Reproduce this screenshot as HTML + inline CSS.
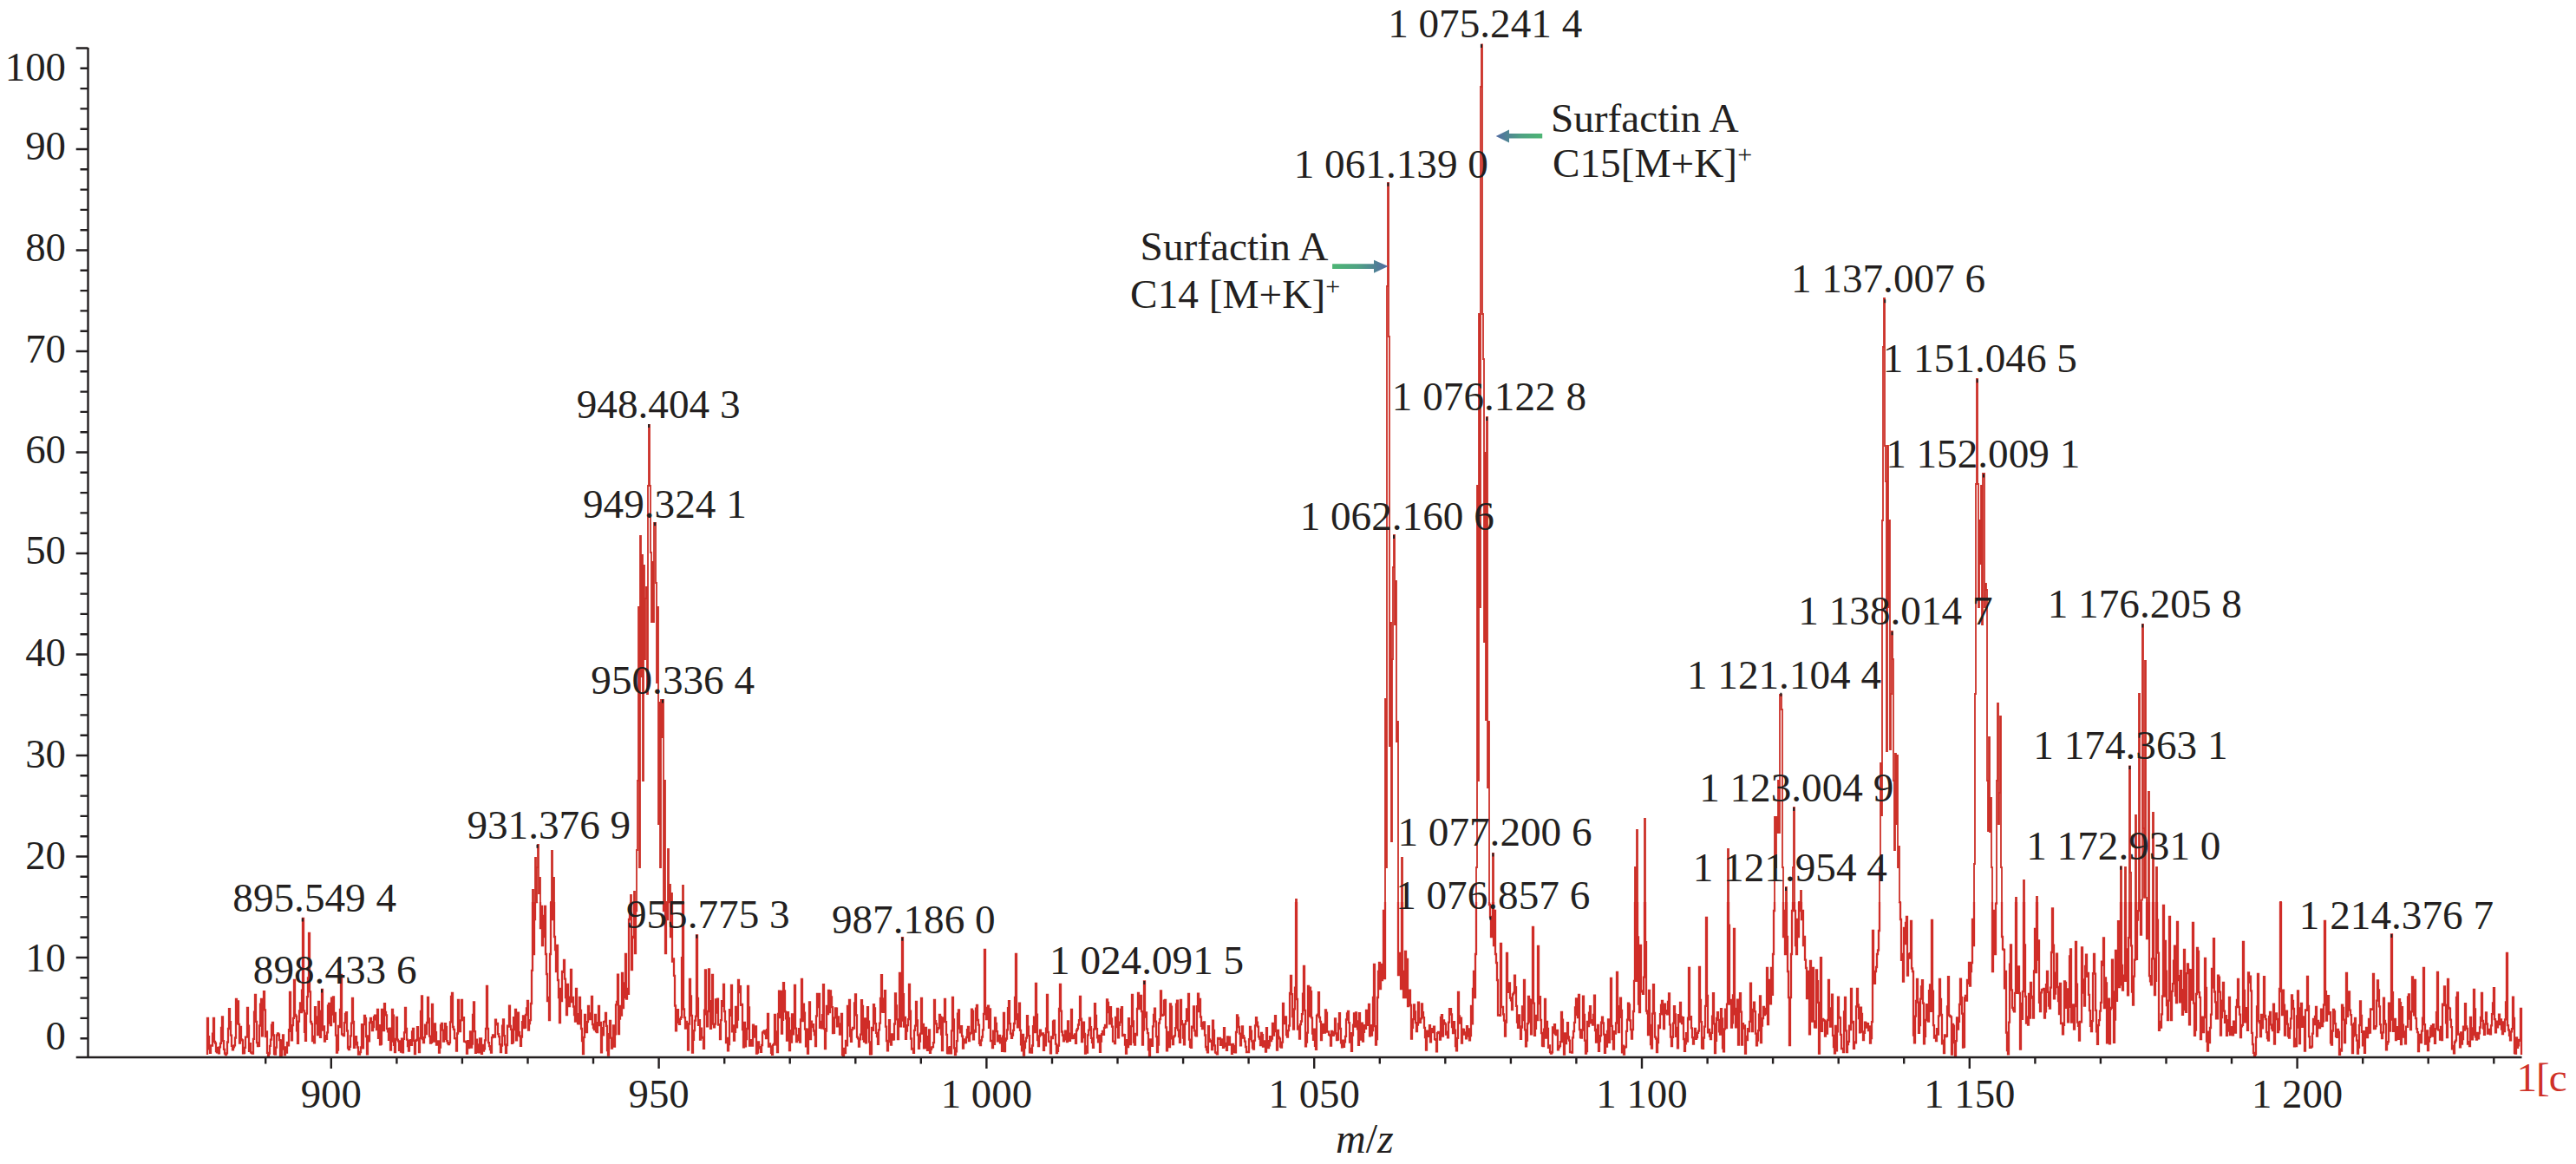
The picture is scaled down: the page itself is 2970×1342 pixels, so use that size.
<!DOCTYPE html>
<html><head><meta charset="utf-8"><style>html,body{margin:0;padding:0;background:#fff;overflow:hidden}svg{display:block}</style></head>
<body><svg width="2970" height="1342" viewBox="0 0 2970 1342">
<rect width="100%" height="100%" fill="#fff"/>
<defs><clipPath id="clo"><rect x="0" y="1040" width="2970" height="200"/></clipPath><clipPath id="chi"><rect x="0" y="0" width="2970" height="1040"/></clipPath><path id="sig" d="M239.0,1216.0 V1174.0H240.0V1195.2H241.0V1209.4H242.0V1213.9H243.0V1205.4H244.0V1205.7H245.0V1191.7H246.0V1174.0H247.0V1200.9H248.0V1202.6H249.0V1212.0H250.0V1213.3H251.0V1207.9H252.0V1214.4H253.0V1207.4H254.0V1202.8H255.0V1185.0H256.0V1172.3H257.0V1200.2H258.0V1209.9H259.0V1214.7H260.0V1216.0H261.0V1214.3H262.0V1201.5H263.0V1186.0H264.0V1163.1H265.0V1178.2H266.0V1193.6H267.0V1205.8H268.0V1210.4H269.0V1207.4H270.0V1205.3H271.0V1196.5H272.0V1152.0H273.0V1180.2H274.0V1154.5H275.0V1180.8H276.0V1202.6H277.0V1183.8H278.0V1198.3H279.0V1199.4H280.0V1214.4H281.0V1214.2H282.0V1207.9H283.0V1195.6H284.0V1195.6H285.0V1162.0H286.0V1182.6H287.0V1211.8H288.0V1203.2H289.0V1213.4H290.0V1214.0H291.0V1214.5H292.0V1197.8H293.0V1166.6H294.0V1146.8H295.0V1177.8H296.0V1202.1H297.0V1206.0H298.0V1205.8H299.0V1182.5H300.0V1157.6H301.0V1152.0H302.0V1194.4H303.0V1158.0H304.0V1143.1H305.0V1164.3H306.0V1195.0H307.0V1189.5H308.0V1213.9H309.0V1217.0H310.0V1214.6H311.0V1205.8H312.0V1198.6H313.0V1181.7H314.0V1178.8H315.0V1193.5H316.0V1215.1H317.0V1215.6H318.0V1207.6H319.0V1193.5H320.0V1191.3H321.0V1192.7H322.0V1199.1H323.0V1217.0H324.0V1216.5H325.0V1199.4H326.0V1193.5H327.0V1209.6H328.0V1216.2H329.0V1207.4H330.0V1213.5H331.0V1202.0H332.0V1205.4H333.0V1187.1H334.0V1144.0H335.0V1188.8H336.0V1199.4H337.0V1182.1H338.0V1173.9H339.0V1130.0H340.0V1169.8H341.0V1171.6H342.0V1188.4H343.0V1202.8H344.0V1177.6H345.0V1165.4H346.0V1156.3H347.0V1167.1H348.0V1141.7H349.0V1059.0H350.0V1165.3H351.0V1189.9H352.0V1199.8H353.0V1168.5H354.0V1149.1H355.0V1127.4H356.0V1076.0H357.0V1143.3H358.0V1178.0H359.0V1180.4H360.0V1200.2H361.0V1194.8H362.0V1202.3H363.0V1161.1H364.0V1180.0H365.0V1172.5H366.0V1193.2H367.0V1155.0H368.0V1193.2H369.0V1195.9H370.0V1165.7H371.0V1141.0H372.0V1187.6H373.0V1183.5H374.0V1200.5H375.0V1194.1H376.0V1197.8H377.0V1190.3H378.0V1159.4H379.0V1157.0H380.0V1179.6H381.0V1182.2H382.0V1150.7H383.0V1169.7H384.0V1149.3H385.0V1178.2H386.0V1167.8H387.0V1193.6H388.0V1213.6H389.0V1210.7H390.0V1182.9H391.0V1184.0H392.0V1163.9H393.0V1124.0H394.0V1192.4H395.0V1193.0H396.0V1194.1H397.0V1179.2H398.0V1168.9H399.0V1167.2H400.0V1188.5H401.0V1208.4H402.0V1210.0H403.0V1206.8H404.0V1194.4H405.0V1179.6H406.0V1151.0H407.0V1177.9H408.0V1207.8H409.0V1204.3H410.0V1195.2H411.0V1201.8H412.0V1207.5H413.0V1215.7H414.0V1215.7H415.0V1213.0H416.0V1207.5H417.0V1181.2H418.0V1208.4H419.0V1181.2H420.0V1170.9H421.0V1174.0H422.0V1195.1H423.0V1215.4H424.0V1194.5H425.0V1200.4H426.0V1179.0H427.0V1173.9H428.0V1178.2H429.0V1188.2H430.0V1184.2H431.0V1172.3H432.0V1170.7H433.0V1175.3H434.0V1187.1H435.0V1164.0H436.0V1196.8H437.0V1182.2H438.0V1204.4H439.0V1203.6H440.0V1164.0H441.0V1187.1H442.0V1188.2H443.0V1157.2H444.0V1167.0H445.0V1170.4H446.0V1186.2H447.0V1189.3H448.0V1198.9H449.0V1185.6H450.0V1210.7H451.0V1200.5H452.0V1163.9H453.0V1170.7H454.0V1204.8H455.0V1213.2H456.0V1197.8H457.0V1173.0H458.0V1198.7H459.0V1200.4H460.0V1210.9H461.0V1200.3H462.0V1212.7H463.0V1197.7H464.0V1213.4H465.0V1197.9H466.0V1190.4H467.0V1162.0H468.0V1186.0H469.0V1198.7H470.0V1206.0H471.0V1211.6H472.0V1200.1H473.0V1199.1H474.0V1204.9H475.0V1189.3H476.0V1186.0H477.0V1199.9H478.0V1215.0H479.0V1199.8H480.0V1199.0H481.0V1184.2H482.0V1197.4H483.0V1213.0H484.0V1196.8H485.0V1165.9H486.0V1148.4H487.0V1198.2H488.0V1202.2H489.0V1196.2H490.0V1181.7H491.0V1192.1H492.0V1179.0H493.0V1150.0H494.0V1174.5H495.0V1194.7H496.0V1202.7H497.0V1201.9H498.0V1158.0H499.0V1183.6H500.0V1200.7H501.0V1180.4H502.0V1190.1H503.0V1204.6H504.0V1202.9H505.0V1200.4H506.0V1213.5H507.0V1207.5H508.0V1182.0H509.0V1179.8H510.0V1187.7H511.0V1200.5H512.0V1197.9H513.0V1180.1H514.0V1183.8H515.0V1200.2H516.0V1202.6H517.0V1204.0H518.0V1202.1H519.0V1178.4H520.0V1149.0H521.0V1145.0H522.0V1184.0H523.0V1186.9H524.0V1197.2H525.0V1197.4H526.0V1211.6H527.0V1191.5H528.0V1152.8H529.0V1185.8H530.0V1189.2H531.0V1176.4H532.0V1152.9H533.0V1176.0H534.0V1173.2H535.0V1200.6H536.0V1200.8H537.0V1201.6H538.0V1214.5H539.0V1200.2H540.0V1208.0H541.0V1207.5H542.0V1189.5H543.0V1207.7H544.0V1203.5H545.0V1169.8H546.0V1155.3H547.0V1189.1H548.0V1213.8H549.0V1198.7H550.0V1204.5H551.0V1213.0H552.0V1213.4H553.0V1197.4H554.0V1197.5H555.0V1214.8H556.0V1205.0H557.0V1211.7H558.0V1209.3H559.0V1199.3H560.0V1186.0H561.0V1137.0H562.0V1186.0H563.0V1202.1H564.0V1206.1H565.0V1210.1H566.0V1213.7H567.0V1196.2H568.0V1193.3H569.0V1194.6H570.0V1195.6H571.0V1175.7H572.0V1181.3H573.0V1179.8H574.0V1192.1H575.0V1195.1H576.0V1204.1H577.0V1213.1H578.0V1205.7H579.0V1182.6H580.0V1175.4H581.0V1194.2H582.0V1204.3H583.0V1213.9H584.0V1205.2H585.0V1182.6H586.0V1183.6H587.0V1159.6H588.0V1182.8H589.0V1186.9H590.0V1202.9H591.0V1201.6H592.0V1173.1H593.0V1187.1H594.0V1164.0H595.0V1199.3H596.0V1193.6H597.0V1167.6H598.0V1190.2H599.0V1194.5H600.0V1205.8H601.0V1195.6H602.0V1178.2H603.0V1171.3H604.0V1185.0H605.0V1184.5H606.0V1170.0H607.0V1162.5H608.0V1154.0H609.0V1187.7H610.0V1180.0H611.0V1176.2H612.0V1157.0H613.0V1118.9H614.0V1026.0H615.0V1100.0H616.0V1060.0H617.0V989.0H618.0V1040.0H619.0V1000.0H620.0V974.0H621.0V1030.0H622.0V1012.0H623.0V1070.0H624.0V1045.0H625.0V1090.0H626.0V1056.0H627.0V1080.0H628.0V1045.0H629.0V1100.0H630.0V1123.0H631.0V1154.1H632.0V1150.0H633.0V1176.0H634.0V1100.0H635.0V1040.0H636.0V981.0H637.0V1060.0H638.0V1012.0H639.0V1080.0H640.0V1095.0H641.0V1120.0H642.0V1090.0H643.0V1130.0H644.0V1150.0H645.0V1179.0H646.0V1140.0H647.0V1154.1H648.0V1120.0H649.0V1120.8H650.0V1107.0H651.0V1128.7H652.0V1150.0H653.0V1170.1H654.0V1135.0H655.0V1154.7H656.0V1160.0H657.0V1149.6H658.0V1118.0H659.0V1155.2H660.0V1150.0H661.0V1160.5H662.0V1170.0H663.0V1177.5H664.0V1140.0H665.0V1169.2H666.0V1180.0H667.0V1180.4H668.0V1150.0H669.0V1165.0H670.0V1186.0H671.0V1200.0H672.0V1215.0H673.0V1195.8H674.0V1170.0H675.0V1187.8H676.0V1190.0H677.0V1178.1H678.0V1160.0H679.0V1171.8H680.0V1175.0H681.0V1168.4H682.0V1149.0H683.0V1181.0H684.0V1185.0H685.0V1187.1H686.0V1170.0H687.0V1189.1H688.0V1190.0H689.0V1179.2H690.0V1160.0H691.0V1182.0H692.0V1179.0H693.0V1213.3H694.0V1185.2H695.0V1193.4H696.0V1178.2H697.0V1177.6H698.0V1167.8H699.0V1182.8H700.0V1211.0H701.0V1216.5H702.0V1192.1H703.0V1176.8H704.0V1196.7H705.0V1208.7H706.0V1198.6H707.0V1182.5H708.0V1206.7H709.0V1192.4H710.0V1158.3H711.0V1154.8H712.0V1123.7H713.0V1192.1H714.0V1174.5H715.0V1160.0H716.0V1170.5H717.0V1122.0H718.0V1162.2H719.0V1150.0H720.0V1133.5H721.0V1100.0H722.0V1151.6H723.0V1140.0H724.0V1145.9H725.0V1060.0H726.0V1054.5H727.0V1032.0H728.0V1118.0H729.0V1080.0H730.0V1081.2H731.0V1028.0H732.0V1099.2H733.0V1050.0H734.0V980.0H735.0V900.0H736.0V700.0H737.0V1000.0H738.0V618.0H739.0V780.0H740.0V640.0H741.0V900.0H742.0V652.0H743.0V760.0H744.0V690.0H745.0V677.0H746.0V800.0H747.0V560.0H748.0V490.0H749.0V560.0H750.0V637.0H751.0V717.0H752.0V648.0H753.0V717.0H754.0V603.0H755.0V603.0H756.0V672.0H757.0V787.0H758.0V700.0H759.0V950.0H760.0V810.0H761.0V1000.0H762.0V807.0H763.0V850.0H764.0V807.0H765.0V1050.0H766.0V900.0H767.0V1099.0H768.0V1040.0H769.0V1060.0H770.0V979.0H771.0V1040.0H772.0V1020.0H773.0V1080.0H774.0V1030.0H775.0V1108.7H776.0V1105.4H777.0V1124.9H778.0V1159.5H779.0V1188.4H780.0V1165.5H781.0V1164.2H782.0V1178.8H783.0V1180.9H784.0V1174.9H785.0V1172.8H786.0V1104.2H787.0V1021.0H788.0V1163.5H789.0V1173.1H790.0V1185.7H791.0V1177.8H792.0V1180.2H793.0V1210.7H794.0V1180.7H795.0V1128.9H796.0V1148.5H797.0V1170.9H798.0V1213.6H799.0V1198.8H800.0V1188.2H801.0V1176.6H802.0V1171.6H803.0V1078.3H804.0V1151.0H805.0V1181.9H806.0V1176.2H807.0V1198.6H808.0V1185.7H809.0V1195.8H810.0V1196.7H811.0V1208.8H812.0V1164.7H813.0V1118.5H814.0V1169.4H815.0V1183.4H816.0V1166.0H817.0V1117.3H818.0V1154.1H819.0V1185.8H820.0V1180.7H821.0V1124.0H822.0V1180.7H823.0V1184.4H824.0V1180.7H825.0V1152.4H826.0V1167.6H827.0V1151.7H828.0V1181.6H829.0V1181.1H830.0V1198.2H831.0V1176.1H832.0V1154.1H833.0V1159.8H834.0V1135.0H835.0V1166.0H836.0V1177.6H837.0V1202.1H838.0V1196.8H839.0V1211.4H840.0V1204.0H841.0V1164.2H842.0V1170.9H843.0V1136.0H844.0V1189.3H845.0V1182.4H846.0V1199.7H847.0V1189.9H848.0V1160.9H849.0V1184.3H850.0V1175.7H851.0V1130.0H852.0V1144.2H853.0V1137.2H854.0V1158.8H855.0V1157.9H856.0V1187.2H857.0V1207.4H858.0V1179.0H859.0V1206.3H860.0V1198.1H861.0V1186.0H862.0V1137.0H863.0V1161.4H864.0V1205.7H865.0V1202.9H866.0V1199.2H867.0V1205.6H868.0V1181.7H869.0V1195.5H870.0V1188.2H871.0V1183.4H872.0V1214.7H873.0V1213.5H874.0V1201.3H875.0V1208.3H876.0V1207.2H877.0V1212.9H878.0V1205.0H879.0V1190.5H880.0V1189.4H881.0V1188.5H882.0V1192.0H883.0V1197.1H884.0V1187.1H885.0V1168.9H886.0V1206.6H887.0V1203.5H888.0V1206.4H889.0V1213.9H890.0V1215.9H891.0V1204.9H892.0V1203.6H893.0V1169.9H894.0V1189.3H895.0V1204.5H896.0V1213.2H897.0V1169.0H898.0V1142.7H899.0V1173.0H900.0V1143.0H901.0V1191.7H902.0V1175.8H903.0V1133.2H904.0V1142.3H905.0V1166.4H906.0V1174.3H907.0V1199.5H908.0V1167.1H909.0V1174.0H910.0V1211.1H911.0V1188.1H912.0V1201.5H913.0V1169.3H914.0V1192.4H915.0V1185.6H916.0V1136.0H917.0V1185.6H918.0V1201.2H919.0V1193.7H920.0V1199.2H921.0V1186.1H922.0V1201.5H923.0V1175.5H924.0V1129.0H925.0V1177.0H926.0V1157.7H927.0V1167.7H928.0V1186.5H929.0V1206.4H930.0V1186.6H931.0V1214.6H932.0V1192.0H933.0V1155.5H934.0V1198.1H935.0V1177.7H936.0V1184.2H937.0V1181.2H938.0V1188.5H939.0V1193.0H940.0V1206.0H941.0V1171.3H942.0V1145.9H943.0V1161.1H944.0V1146.0H945.0V1184.8H946.0V1178.0H947.0V1185.3H948.0V1170.2H949.0V1135.2H950.0V1186.2H951.0V1209.1H952.0V1188.7H953.0V1159.8H954.0V1169.2H955.0V1142.0H956.0V1167.2H957.0V1142.4H958.0V1149.4H959.0V1161.1H960.0V1191.0H961.0V1190.9H962.0V1173.4H963.0V1162.5H964.0V1162.6H965.0V1183.4H966.0V1172.4H967.0V1180.3H968.0V1192.5H969.0V1190.7H970.0V1168.9H971.0V1216.0H972.0V1216.8H973.0V1209.0H974.0V1214.2H975.0V1200.0H976.0V1205.4H977.0V1159.9H978.0V1182.3H979.0V1153.0H980.0V1194.7H981.0V1200.9H982.0V1187.2H983.0V1184.9H984.0V1185.7H985.0V1156.4H986.0V1146.3H987.0V1170.3H988.0V1195.6H989.0V1197.3H990.0V1206.5H991.0V1198.3H992.0V1192.6H993.0V1153.2H994.0V1159.8H995.0V1198.1H996.0V1200.9H997.0V1174.5H998.0V1202.3H999.0V1185.1H1000.0V1161.2H1001.0V1177.6H1002.0V1201.3H1003.0V1215.3H1004.0V1215.1H1005.0V1184.8H1006.0V1187.8H1007.0V1158.2H1008.0V1162.5H1009.0V1180.1H1010.0V1190.9H1011.0V1195.1H1012.0V1203.8H1013.0V1187.4H1014.0V1179.6H1015.0V1151.0H1016.0V1124.2H1017.0V1166.5H1018.0V1166.8H1019.0V1151.5H1020.0V1142.2H1021.0V1183.7H1022.0V1200.0H1023.0V1211.3H1024.0V1201.1H1025.0V1176.2H1026.0V1200.5H1027.0V1204.7H1028.0V1192.5H1029.0V1198.5H1030.0V1198.4H1031.0V1180.5H1032.0V1145.4H1033.0V1159.3H1034.0V1175.4H1035.0V1198.0H1036.0V1176.2H1037.0V1122.0H1038.0V1183.3H1039.0V1176.7H1040.0V1081.2H1041.0V1146.1H1042.0V1183.7H1043.0V1172.8H1044.0V1197.9H1045.0V1188.5H1046.0V1182.2H1047.0V1175.2H1048.0V1135.0H1049.0V1165.7H1050.0V1197.5H1051.0V1209.5H1052.0V1208.9H1053.0V1213.9H1054.0V1187.8H1055.0V1182.6H1056.0V1154.9H1057.0V1176.4H1058.0V1193.3H1059.0V1208.8H1060.0V1200.6H1061.0V1191.6H1062.0V1151.0H1063.0V1191.6H1064.0V1180.8H1065.0V1208.4H1066.0V1199.4H1067.0V1184.9H1068.0V1208.1H1069.0V1210.9H1070.0V1195.2H1071.0V1187.3H1072.0V1213.9H1073.0V1209.8H1074.0V1207.7H1075.0V1207.2H1076.0V1202.1H1077.0V1153.0H1078.0V1177.1H1079.0V1180.4H1080.0V1190.0H1081.0V1186.2H1082.0V1185.2H1083.0V1170.0H1084.0V1172.5H1085.0V1192.7H1086.0V1211.1H1087.0V1173.4H1088.0V1178.0H1089.0V1151.8H1090.0V1178.1H1091.0V1192.8H1092.0V1214.1H1093.0V1214.4H1094.0V1207.7H1095.0V1207.2H1096.0V1214.3H1097.0V1188.4H1098.0V1150.0H1099.0V1175.5H1100.0V1208.3H1101.0V1216.0H1102.0V1212.4H1103.0V1200.1H1104.0V1168.6H1105.0V1164.5H1106.0V1185.6H1107.0V1190.4H1108.0V1183.1H1109.0V1194.6H1110.0V1208.6H1111.0V1202.3H1112.0V1198.5H1113.0V1202.0H1114.0V1196.0H1115.0V1187.2H1116.0V1184.0H1117.0V1200.0H1118.0V1192.2H1119.0V1190.8H1120.0V1163.7H1121.0V1165.7H1122.0V1198.4H1123.0V1187.9H1124.0V1189.5H1125.0V1162.7H1126.0V1158.8H1127.0V1176.0H1128.0V1181.7H1129.0V1202.8H1130.0V1205.0H1131.0V1199.5H1132.0V1195.5H1133.0V1187.3H1134.0V1169.0H1135.0V1095.0H1136.0V1169.0H1137.0V1175.1H1138.0V1161.8H1139.0V1159.7H1140.0V1184.8H1141.0V1163.5H1142.0V1200.0H1143.0V1199.9H1144.0V1208.2H1145.0V1188.7H1146.0V1203.8H1147.0V1173.4H1148.0V1179.8H1149.0V1189.1H1150.0V1200.4H1151.0V1194.5H1152.0V1193.9H1153.0V1202.3H1154.0V1197.2H1155.0V1211.9H1156.0V1194.6H1157.0V1167.9H1158.0V1212.0H1159.0V1199.7H1160.0V1197.5H1161.0V1187.3H1162.0V1162.2H1163.0V1154.2H1164.0V1180.1H1165.0V1191.6H1166.0V1196.9H1167.0V1193.7H1168.0V1187.8H1169.0V1180.0H1170.0V1150.0H1171.0V1100.0H1172.0V1175.0H1173.0V1184.4H1174.0V1169.3H1175.0V1156.7H1176.0V1187.9H1177.0V1204.3H1178.0V1211.3H1179.0V1193.0H1180.0V1216.5H1181.0V1208.1H1182.0V1200.6H1183.0V1196.7H1184.0V1171.2H1185.0V1183.7H1186.0V1194.1H1187.0V1213.3H1188.0V1208.8H1189.0V1213.5H1190.0V1205.5H1191.0V1183.1H1192.0V1172.6H1193.0V1190.1H1194.0V1134.0H1195.0V1169.7H1196.0V1199.2H1197.0V1206.1H1198.0V1194.5H1199.0V1187.7H1200.0V1193.1H1201.0V1191.5H1202.0V1191.4H1203.0V1210.8H1204.0V1193.4H1205.0V1205.4H1206.0V1185.6H1207.0V1147.0H1208.0V1190.0H1209.0V1200.7H1210.0V1201.1H1211.0V1214.3H1212.0V1195.5H1213.0V1197.1H1214.0V1177.7H1215.0V1176.7H1216.0V1193.0H1217.0V1203.7H1218.0V1214.2H1219.0V1211.9H1220.0V1205.5H1221.0V1162.9H1222.0V1135.0H1223.0V1165.7H1224.0V1189.5H1225.0V1193.5H1226.0V1200.3H1227.0V1194.5H1228.0V1188.6H1229.0V1198.4H1230.0V1201.0H1231.0V1177.3H1232.0V1191.6H1233.0V1199.8H1234.0V1192.4H1235.0V1164.0H1236.0V1197.2H1237.0V1196.8H1238.0V1193.8H1239.0V1192.5H1240.0V1202.9H1241.0V1188.0H1242.0V1186.2H1243.0V1181.5H1244.0V1176.2H1245.0V1149.0H1246.0V1174.6H1247.0V1201.1H1248.0V1196.0H1249.0V1178.6H1250.0V1191.8H1251.0V1214.7H1252.0V1206.4H1253.0V1213.6H1254.0V1193.4H1255.0V1187.7H1256.0V1173.7H1257.0V1184.1H1258.0V1196.8H1259.0V1201.9H1260.0V1207.9H1261.0V1186.6H1262.0V1157.1H1263.0V1171.0H1264.0V1186.1H1265.0V1196.3H1266.0V1201.4H1267.0V1193.8H1268.0V1212.8H1269.0V1200.6H1270.0V1192.1H1271.0V1188.8H1272.0V1192.9H1273.0V1184.9H1274.0V1181.9H1275.0V1184.3H1276.0V1152.3H1277.0V1155.8H1278.0V1167.0H1279.0V1180.3H1280.0V1161.1H1281.0V1174.3H1282.0V1183.6H1283.0V1200.7H1284.0V1200.6H1285.0V1203.0H1286.0V1172.9H1287.0V1184.2H1288.0V1163.0H1289.0V1196.4H1290.0V1181.8H1291.0V1178.7H1292.0V1164.0H1293.0V1161.2H1294.0V1194.1H1295.0V1192.8H1296.0V1193.2H1297.0V1204.6H1298.0V1214.7H1299.0V1199.1H1300.0V1207.2H1301.0V1174.2H1302.0V1198.1H1303.0V1204.1H1304.0V1183.2H1305.0V1147.0H1306.0V1177.3H1307.0V1201.5H1308.0V1204.5H1309.0V1191.8H1310.0V1193.3H1311.0V1162.8H1312.0V1145.0H1313.0V1163.0H1314.0V1159.1H1315.0V1147.8H1316.0V1166.1H1317.0V1204.5H1318.0V1187.6H1319.0V1131.5H1320.0V1172.7H1321.0V1167.3H1322.0V1186.4H1323.0V1191.1H1324.0V1210.4H1325.0V1217.0H1326.0V1198.5H1327.0V1203.0H1328.0V1205.8H1329.0V1183.4H1330.0V1170.0H1331.0V1162.6H1332.0V1177.7H1333.0V1195.2H1334.0V1213.0H1335.0V1204.7H1336.0V1179.5H1337.0V1175.1H1338.0V1142.3H1339.0V1170.9H1340.0V1170.7H1341.0V1169.9H1342.0V1153.6H1343.0V1152.8H1344.0V1184.5H1345.0V1211.4H1346.0V1190.0H1347.0V1195.0H1348.0V1207.1H1349.0V1157.3H1350.0V1160.7H1351.0V1197.4H1352.0V1204.0H1353.0V1195.4H1354.0V1194.1H1355.0V1185.1H1356.0V1157.6H1357.0V1153.6H1358.0V1187.7H1359.0V1195.0H1360.0V1201.9H1361.0V1153.0H1362.0V1177.1H1363.0V1181.0H1364.0V1196.5H1365.0V1204.4H1366.0V1180.7H1367.0V1177.1H1368.0V1163.4H1369.0V1176.7H1370.0V1146.0H1371.0V1198.6H1372.0V1206.8H1373.0V1207.8H1374.0V1183.7H1375.0V1184.9H1376.0V1160.3H1377.0V1188.4H1378.0V1193.6H1379.0V1194.3H1380.0V1160.2H1381.0V1145.7H1382.0V1166.1H1383.0V1152.0H1384.0V1172.5H1385.0V1182.8H1386.0V1186.2H1387.0V1179.0H1388.0V1178.5H1389.0V1193.5H1390.0V1207.0H1391.0V1210.3H1392.0V1213.4H1393.0V1183.2H1394.0V1198.3H1395.0V1200.8H1396.0V1199.9H1397.0V1210.1H1398.0V1176.6H1399.0V1187.9H1400.0V1205.3H1401.0V1213.4H1402.0V1214.0H1403.0V1215.4H1404.0V1197.0H1405.0V1197.8H1406.0V1196.8H1407.0V1204.8H1408.0V1203.0H1409.0V1198.5H1410.0V1207.9H1411.0V1185.2H1412.0V1202.8H1413.0V1206.3H1414.0V1210.8H1415.0V1195.3H1416.0V1204.7H1417.0V1195.6H1418.0V1204.6H1419.0V1204.2H1420.0V1214.8H1421.0V1204.0H1422.0V1205.9H1423.0V1212.9H1424.0V1213.3H1425.0V1190.0H1426.0V1170.4H1427.0V1173.3H1428.0V1184.0H1429.0V1191.6H1430.0V1205.3H1431.0V1196.5H1432.0V1183.4H1433.0V1194.1H1434.0V1196.7H1435.0V1200.6H1436.0V1207.0H1437.0V1213.1H1438.0V1212.6H1439.0V1213.2H1440.0V1198.1H1441.0V1184.0H1442.0V1188.7H1443.0V1200.3H1444.0V1208.2H1445.0V1209.5H1446.0V1199.6H1447.0V1182.3H1448.0V1173.1H1449.0V1178.6H1450.0V1183.6H1451.0V1195.4H1452.0V1197.7H1453.0V1205.0H1454.0V1191.0H1455.0V1193.1H1456.0V1206.7H1457.0V1200.5H1458.0V1206.0H1459.0V1212.5H1460.0V1185.2H1461.0V1200.1H1462.0V1208.2H1463.0V1205.4H1464.0V1195.2H1465.0V1200.0H1466.0V1197.6H1467.0V1179.9H1468.0V1193.6H1469.0V1186.6H1470.0V1171.2H1471.0V1189.1H1472.0V1210.5H1473.0V1187.8H1474.0V1195.7H1475.0V1197.3H1476.0V1206.6H1477.0V1207.6H1478.0V1201.6H1479.0V1157.0H1480.0V1178.2H1481.0V1180.1H1482.0V1172.4H1483.0V1193.2H1484.0V1195.5H1485.0V1188.1H1486.0V1182.5H1487.0V1145.0H1488.0V1124.8H1489.0V1146.1H1490.0V1172.1H1491.0V1186.5H1492.0V1163.4H1493.0V1138.7H1494.0V1037.0H1495.0V1152.0H1496.0V1186.7H1497.0V1183.4H1498.0V1197.7H1499.0V1181.2H1500.0V1177.5H1501.0V1169.2H1502.0V1145.7H1503.0V1114.0H1504.0V1164.9H1505.0V1206.3H1506.0V1201.7H1507.0V1190.6H1508.0V1137.0H1509.0V1171.5H1510.0V1138.6H1511.0V1143.1H1512.0V1173.3H1513.0V1191.6H1514.0V1198.9H1515.0V1186.7H1516.0V1205.8H1517.0V1209.9H1518.0V1171.0H1519.0V1169.7H1520.0V1144.2H1521.0V1173.0H1522.0V1177.8H1523.0V1199.0H1524.0V1190.8H1525.0V1180.9H1526.0V1186.4H1527.0V1190.6H1528.0V1164.4H1529.0V1167.6H1530.0V1189.5H1531.0V1189.5H1532.0V1192.9H1533.0V1193.9H1534.0V1205.7H1535.0V1188.9H1536.0V1193.9H1537.0V1193.5H1538.0V1189.8H1539.0V1174.3H1540.0V1191.5H1541.0V1199.0H1542.0V1198.7H1543.0V1180.3H1544.0V1168.2H1545.0V1186.0H1546.0V1202.4H1547.0V1207.3H1548.0V1199.6H1549.0V1206.9H1550.0V1201.4H1551.0V1194.9H1552.0V1175.5H1553.0V1168.3H1554.0V1165.9H1555.0V1179.2H1556.0V1201.5H1557.0V1191.2H1558.0V1211.9H1559.0V1193.7H1560.0V1181.6H1561.0V1168.5H1562.0V1183.6H1563.0V1167.5H1564.0V1177.4H1565.0V1186.4H1566.0V1204.8H1567.0V1168.2H1568.0V1198.5H1569.0V1191.8H1570.0V1179.6H1571.0V1200.7H1572.0V1189.8H1573.0V1182.2H1574.0V1185.8H1575.0V1164.8H1576.0V1171.6H1577.0V1181.8H1578.0V1158.0H1579.0V1194.4H1580.0V1182.1H1581.0V1193.5H1582.0V1188.2H1583.0V1149.8H1584.0V1112.0H1585.0V1183.1H1586.0V1204.5H1587.0V1198.2H1588.0V1150.0H1589.0V1120.0H1590.0V1110.0H1591.0V1140.0H1592.0V1112.0H1593.0V1130.0H1594.0V1124.0H1595.0V1050.0H1596.0V1128.0H1597.0V806.0H1598.0V1000.0H1599.0V330.0H1600.0V211.0H1601.0V388.0H1602.0V860.0H1603.0V718.0H1604.0V970.0H1605.0V760.0H1606.0V654.0H1607.0V617.0H1608.0V720.0H1609.0V670.0H1610.0V855.0H1611.0V832.0H1612.0V1124.0H1613.0V1099.0H1614.0V1110.0H1615.0V1140.0H1616.0V989.0H1617.0V1120.0H1618.0V1150.0H1619.0V1130.0H1620.0V1097.0H1621.0V1150.0H1622.0V1106.0H1623.0V1160.0H1624.0V1159.0H1625.0V1141.6H1626.0V1158.7H1627.0V1197.7H1628.0V1184.8H1629.0V1175.2H1630.0V1158.4H1631.0V1166.4H1632.0V1179.1H1633.0V1189.2H1634.0V1181.6H1635.0V1155.7H1636.0V1178.1H1637.0V1178.9H1638.0V1174.4H1639.0V1157.5H1640.0V1167.1H1641.0V1173.1H1642.0V1184.9H1643.0V1196.0H1644.0V1210.5H1645.0V1188.6H1646.0V1193.8H1647.0V1194.8H1648.0V1182.1H1649.0V1201.3H1650.0V1187.3H1651.0V1186.1H1652.0V1190.2H1653.0V1183.6H1654.0V1198.1H1655.0V1198.9H1656.0V1212.4H1657.0V1191.1H1658.0V1190.0H1659.0V1189.9H1660.0V1198.6H1661.0V1172.8H1662.0V1170.2H1663.0V1194.6H1664.0V1176.3H1665.0V1179.3H1666.0V1180.7H1667.0V1192.6H1668.0V1189.7H1669.0V1196.3H1670.0V1178.6H1671.0V1163.1H1672.0V1163.2H1673.0V1169.5H1674.0V1184.1H1675.0V1191.0H1676.0V1178.1H1677.0V1187.7H1678.0V1206.0H1679.0V1211.3H1680.0V1196.8H1681.0V1144.0H1682.0V1171.4H1683.0V1179.6H1684.0V1173.6H1685.0V1202.7H1686.0V1186.7H1687.0V1186.9H1688.0V1192.6H1689.0V1190.4H1690.0V1197.3H1691.0V1183.2H1692.0V1194.6H1693.0V1186.4H1694.0V1199.4H1695.0V1194.0H1696.0V1159.8H1697.0V1180.3H1698.0V1140.0H1699.0V1120.0H1700.0V1150.0H1701.0V1100.0H1702.0V1000.0H1703.0V560.0H1704.0V900.0H1705.0V362.0H1706.0V700.0H1707.0V100.0H1708.0V51.5H1709.0V362.0H1710.0V414.0H1711.0V740.0H1712.0V522.0H1713.0V830.0H1714.0V481.0H1715.0V908.0H1716.0V832.0H1717.0V1043.0H1718.0V1057.0H1719.0V1080.0H1720.0V1060.0H1721.0V984.0H1722.0V1090.0H1723.0V1050.0H1724.0V1100.0H1725.0V1110.0H1726.0V1130.0H1727.0V1170.5H1728.0V1170.1H1729.0V1170.8H1730.0V1088.0H1731.0V1161.2H1732.0V1161.0H1733.0V1169.4H1734.0V1176.7H1735.0V1194.7H1736.0V1178.7H1737.0V1099.0H1738.0V1135.3H1739.0V1143.9H1740.0V1133.4H1741.0V1150.5H1742.0V1153.4H1743.0V1164.1H1744.0V1146.4H1745.0V1144.7H1746.0V1124.6H1747.0V1138.1H1748.0V1159.9H1749.0V1178.6H1750.0V1184.9H1751.0V1170.5H1752.0V1183.5H1753.0V1197.8H1754.0V1184.6H1755.0V1160.4H1756.0V1176.0H1757.0V1130.0H1758.0V1187.3H1759.0V1206.4H1760.0V1199.7H1761.0V1180.1H1762.0V1148.9H1763.0V1152.5H1764.0V1178.4H1765.0V1192.3H1766.0V1152.8H1767.0V1069.0H1768.0V1156.6H1769.0V1193.8H1770.0V1185.8H1771.0V1170.8H1772.0V1176.0H1773.0V1091.0H1774.0V1157.1H1775.0V1149.2H1776.0V1176.0H1777.0V1191.0H1778.0V1205.7H1779.0V1206.0H1780.0V1186.6H1781.0V1152.0H1782.0V1196.5H1783.0V1177.9H1784.0V1185.8H1785.0V1207.9H1786.0V1205.5H1787.0V1213.0H1788.0V1214.6H1789.0V1213.3H1790.0V1184.5H1791.0V1190.7H1792.0V1181.1H1793.0V1192.0H1794.0V1193.1H1795.0V1188.0H1796.0V1210.4H1797.0V1207.5H1798.0V1206.0H1799.0V1201.2H1800.0V1166.9H1801.0V1175.7H1802.0V1201.1H1803.0V1215.5H1804.0V1191.4H1805.0V1203.2H1806.0V1197.3H1807.0V1179.1H1808.0V1195.4H1809.0V1199.6H1810.0V1213.0H1811.0V1212.9H1812.0V1213.5H1813.0V1196.4H1814.0V1189.0H1815.0V1178.8H1816.0V1161.3H1817.0V1151.3H1818.0V1170.0H1819.0V1173.1H1820.0V1147.0H1821.0V1187.2H1822.0V1196.2H1823.0V1196.6H1824.0V1187.5H1825.0V1148.6H1826.0V1169.9H1827.0V1199.6H1828.0V1214.5H1829.0V1212.2H1830.0V1177.9H1831.0V1183.0H1832.0V1167.6H1833.0V1160.2H1834.0V1179.3H1835.0V1176.1H1836.0V1181.6H1837.0V1170.0H1838.0V1147.7H1839.0V1188.0H1840.0V1201.7H1841.0V1186.8H1842.0V1181.8H1843.0V1211.9H1844.0V1200.3H1845.0V1194.1H1846.0V1178.6H1847.0V1172.6H1848.0V1179.5H1849.0V1192.6H1850.0V1213.8H1851.0V1193.1H1852.0V1206.6H1853.0V1188.9H1854.0V1175.4H1855.0V1201.9H1856.0V1178.8H1857.0V1128.0H1858.0V1182.9H1859.0V1198.0H1860.0V1209.6H1861.0V1189.2H1862.0V1191.6H1863.0V1179.5H1864.0V1121.0H1865.0V1160.2H1866.0V1190.2H1867.0V1172.8H1868.0V1150.7H1869.0V1165.0H1870.0V1213.3H1871.0V1205.7H1872.0V1215.6H1873.0V1207.5H1874.0V1207.0H1875.0V1188.9H1876.0V1175.7H1877.0V1156.6H1878.0V1158.4H1879.0V1176.5H1880.0V1187.0H1881.0V1197.6H1882.0V1187.2H1883.0V1166.0H1884.0V1130.8H1885.0V1000.0H1886.0V1130.8H1887.0V957.0H1888.0V1080.3H1889.0V1157.6H1890.0V1167.0H1891.0V1090.0H1892.0V1143.4H1893.0V1142.5H1894.0V1145.8H1895.0V1126.6H1896.0V944.0H1897.0V1086.1H1898.0V1165.5H1899.0V1168.3H1900.0V1193.1H1901.0V1142.0H1902.0V1181.8H1903.0V1204.0H1904.0V1208.5H1905.0V1168.6H1906.0V1135.2H1907.0V1167.8H1908.0V1195.6H1909.0V1197.6H1910.0V1213.1H1911.0V1202.0H1912.0V1182.3H1913.0V1185.2H1914.0V1169.1H1915.0V1158.6H1916.0V1154.0H1917.0V1169.4H1918.0V1186.0H1919.0V1157.6H1920.0V1165.1H1921.0V1168.2H1922.0V1169.4H1923.0V1155.0H1924.0V1145.5H1925.0V1181.3H1926.0V1195.5H1927.0V1206.1H1928.0V1195.9H1929.0V1179.7H1930.0V1160.1H1931.0V1169.3H1932.0V1194.8H1933.0V1185.0H1934.0V1208.4H1935.0V1170.2H1936.0V1178.0H1937.0V1155.9H1938.0V1172.5H1939.0V1180.1H1940.0V1173.2H1941.0V1198.0H1942.0V1211.9H1943.0V1203.3H1944.0V1191.1H1945.0V1200.7H1946.0V1173.6H1947.0V1116.0H1948.0V1175.4H1949.0V1172.1H1950.0V1185.4H1951.0V1196.1H1952.0V1203.5H1953.0V1196.8H1954.0V1186.0H1955.0V1197.9H1956.0V1196.2H1957.0V1190.9H1958.0V1188.7H1959.0V1115.0H1960.0V1153.0H1961.0V1178.2H1962.0V1208.3H1963.0V1208.8H1964.0V1196.5H1965.0V1183.6H1966.0V1159.8H1967.0V1058.0H1968.0V1148.0H1969.0V1190.4H1970.0V1186.8H1971.0V1194.6H1972.0V1198.0H1973.0V1190.9H1974.0V1171.7H1975.0V1145.1H1976.0V1180.4H1977.0V1214.1H1978.0V1199.8H1979.0V1174.0H1980.0V1167.2H1981.0V1175.8H1982.0V1189.4H1983.0V1192.7H1984.0V1163.2H1985.0V1174.3H1986.0V1208.3H1987.0V1212.3H1988.0V1186.4H1989.0V1163.7H1990.0V1185.0H1991.0V1157.6H1992.0V979.0H1993.0V1066.7H1994.0V1157.6H1995.0V1153.0H1996.0V1184.6H1997.0V1179.4H1998.0V1147.5H1999.0V1071.0H2000.0V1169.3H2001.0V1184.4H2002.0V1162.8H2003.0V1152.7H2004.0V1204.5H2005.0V1158.1H2006.0V1145.1H2007.0V1166.7H2008.0V1204.7H2009.0V1180.2H2010.0V1185.5H2011.0V1182.3H2012.0V1214.5H2013.0V1195.0H2014.0V1199.2H2015.0V1186.1H2016.0V1189.1H2017.0V1177.8H2018.0V1133.7H2019.0V1165.0H2020.0V1189.2H2021.0V1164.0H2022.0V1155.7H2023.0V1166.2H2024.0V1191.7H2025.0V1205.3H2026.0V1199.7H2027.0V1188.1H2028.0V1169.7H2029.0V1148.4H2030.0V1202.0H2031.0V1182.5H2032.0V1174.1H2033.0V1160.9H2034.0V1170.2H2035.0V1162.8H2036.0V1168.6H2037.0V1116.0H2038.0V1181.1H2039.0V1155.8H2040.0V1130.0H2041.0V1157.3H2042.0V1116.0H2043.0V1146.8H2044.0V1100.0H2045.0V1050.0H2046.0V942.0H2047.0V1000.0H2048.0V942.0H2049.0V960.0H2050.0V900.0H2051.0V960.0H2052.0V801.0H2053.0V801.0H2054.0V818.0H2055.0V1000.0H2056.0V1080.0H2057.0V1050.0H2058.0V1100.0H2059.0V1023.0H2060.0V1080.0H2061.0V1120.0H2062.0V1150.0H2063.0V1205.0H2064.0V1150.0H2065.0V1100.0H2066.0V1050.0H2067.0V1000.0H2068.0V931.0H2069.0V1050.0H2070.0V1090.0H2071.0V1100.0H2072.0V1060.0H2073.0V1080.0H2074.0V1040.0H2075.0V1050.0H2076.0V1027.0H2077.0V1060.0H2078.0V1050.0H2079.0V1090.0H2080.0V1080.0H2081.0V1106.7H2082.0V1116.0H2083.0V1151.2H2084.0V1122.1H2085.0V1120.0H2086.0V1192.4H2087.0V1107.8H2088.0V1117.3H2089.0V1177.5H2090.0V1116.0H2091.0V1177.5H2092.0V1184.3H2093.0V1184.7H2094.0V1118.3H2095.0V1131.1H2096.0V1155.8H2097.0V1214.5H2098.0V1161.8H2099.0V1104.2H2100.0V1188.9H2101.0V1175.0H2102.0V1176.0H2103.0V1176.6H2104.0V1194.5H2105.0V1177.6H2106.0V1191.7H2107.0V1176.0H2108.0V1130.0H2109.0V1162.5H2110.0V1183.7H2111.0V1179.6H2112.0V1146.7H2113.0V1193.8H2114.0V1207.0H2115.0V1214.3H2116.0V1183.0H2117.0V1211.3H2118.0V1189.4H2119.0V1149.6H2120.0V1172.6H2121.0V1173.5H2122.0V1192.8H2123.0V1209.1H2124.0V1208.9H2125.0V1213.2H2126.0V1166.3H2127.0V1149.8H2128.0V1188.3H2129.0V1213.0H2130.0V1204.2H2131.0V1200.9H2132.0V1182.7H2133.0V1187.2H2134.0V1140.0H2135.0V1179.0H2136.0V1177.9H2137.0V1208.9H2138.0V1201.4H2139.0V1202.4H2140.0V1160.5H2141.0V1139.8H2142.0V1158.5H2143.0V1174.0H2144.0V1190.3H2145.0V1161.6H2146.0V1169.0H2147.0V1189.5H2148.0V1199.0H2149.0V1190.9H2150.0V1178.7H2151.0V1179.6H2152.0V1184.6H2153.0V1180.1H2154.0V1188.2H2155.0V1183.5H2156.0V1202.7H2157.0V1197.0H2158.0V1178.1H2159.0V1073.0H2160.0V1130.0H2161.0V1133.8H2162.0V1120.0H2163.0V1115.0H2164.0V1100.0H2165.0V1095.5H2166.0V1073.0H2167.0V1000.0H2168.0V880.0H2169.0V940.0H2170.0V600.0H2171.0V400.0H2172.0V344.0H2173.0V514.0H2174.0V555.0H2175.0V866.0H2176.0V514.0H2177.0V700.0H2178.0V600.0H2179.0V864.0H2180.0V800.0H2181.0V728.0H2182.0V760.0H2183.0V900.0H2184.0V980.0H2185.0V869.0H2186.0V950.0H2187.0V871.0H2188.0V1000.0H2189.0V976.0H2190.0V1040.0H2191.0V1060.0H2192.0V1106.8H2193.0V1100.0H2194.0V1131.7H2195.0V1070.0H2196.0V1088.1H2197.0V1063.9H2198.0V1057.0H2199.0V1124.7H2200.0V1100.0H2201.0V1104.6H2202.0V1099.1H2203.0V1062.0H2204.0V1116.5H2205.0V1120.0H2206.0V1193.6H2207.0V1202.3H2208.0V1171.6H2209.0V1154.0H2210.0V1129.0H2211.0V1155.6H2212.0V1190.9H2213.0V1182.2H2214.0V1151.6H2215.0V1137.5H2216.0V1130.1H2217.0V1156.7H2218.0V1203.3H2219.0V1194.8H2220.0V1176.0H2221.0V1158.1H2222.0V1158.1H2223.0V1177.5H2224.0V1142.1H2225.0V1135.3H2226.0V1165.9H2227.0V1061.0H2228.0V1142.7H2229.0V1182.1H2230.0V1196.5H2231.0V1194.0H2232.0V1200.2H2233.0V1186.2H2234.0V1192.5H2235.0V1171.4H2236.0V1129.0H2237.0V1152.0H2238.0V1170.0H2239.0V1203.3H2240.0V1199.6H2241.0V1214.0H2242.0V1193.5H2243.0V1195.2H2244.0V1194.6H2245.0V1160.5H2246.0V1126.2H2247.0V1170.6H2248.0V1171.5H2249.0V1172.4H2250.0V1215.6H2251.0V1181.0H2252.0V1182.7H2253.0V1202.0H2254.0V1217.0H2255.0V1200.2H2256.0V1173.4H2257.0V1186.6H2258.0V1177.8H2259.0V1158.0H2260.0V1128.7H2261.0V1149.9H2262.0V1168.6H2263.0V1207.5H2264.0V1206.8H2265.0V1150.5H2266.0V1148.0H2267.0V1153.6H2268.0V1130.0H2269.0V1133.8H2270.0V1110.0H2271.0V1136.7H2272.0V1120.0H2273.0V1110.0H2274.0V1060.0H2275.0V1090.0H2276.0V996.0H2277.0V800.0H2278.0V558.0H2279.0V437.0H2280.0V558.0H2281.0V700.0H2282.0V600.0H2283.0V650.0H2284.0V560.0H2285.0V720.0H2286.0V546.0H2287.0V546.0H2288.0V700.0H2289.0V673.0H2290.0V680.0H2291.0V900.0H2292.0V958.0H2293.0V850.0H2294.0V959.0H2295.0V920.0H2296.0V1000.0H2297.0V1120.0H2298.0V1050.0H2299.0V1089.8H2300.0V1100.0H2301.0V1041.6H2302.0V900.0H2303.0V811.0H2304.0V950.0H2305.0V914.0H2306.0V826.0H2307.0V1000.0H2308.0V1080.0H2309.0V1094.3H2310.0V1095.0H2311.0V1139.4H2312.0V1120.0H2313.0V1190.5H2314.0V1211.1H2315.0V1215.4H2316.0V1178.6H2317.0V1111.7H2318.0V1089.4H2319.0V1141.4H2320.0V1161.9H2321.0V1164.3H2322.0V1166.3H2323.0V1144.9H2324.0V1035.0H2325.0V1144.9H2326.0V1141.2H2327.0V1114.3H2328.0V1145.0H2329.0V1209.6H2330.0V1156.9H2331.0V1174.8H2332.0V1143.1H2333.0V1015.0H2334.0V1089.4H2335.0V1148.9H2336.0V1179.6H2337.0V1172.5H2338.0V1181.6H2339.0V1145.8H2340.0V1173.7H2341.0V1132.8H2342.0V1148.9H2343.0V1150.5H2344.0V1173.6H2345.0V1119.4H2346.0V1071.0H2347.0V1121.1H2348.0V1034.0H2349.0V1106.6H2350.0V1084.5H2351.0V1155.8H2352.0V1166.1H2353.0V1144.4H2354.0V1140.9H2355.0V1141.4H2356.0V1139.9H2357.0V1173.6H2358.0V1166.4H2359.0V1135.2H2360.0V1119.9H2361.0V1143.9H2362.0V1159.6H2363.0V1162.7H2364.0V1138.6H2365.0V1098.0H2366.0V1047.5H2367.0V1089.7H2368.0V1151.3H2369.0V1145.7H2370.0V1121.6H2371.0V1099.6H2372.0V1138.0H2373.0V1154.2H2374.0V1169.0H2375.0V1134.0H2376.0V1180.1H2377.0V1179.7H2378.0V1192.3H2379.0V1181.9H2380.0V1131.3H2381.0V1132.8H2382.0V1161.8H2383.0V1140.3H2384.0V1178.4H2385.0V1160.8H2386.0V1102.5H2387.0V1094.4H2388.0V1178.5H2389.0V1175.2H2390.0V1158.5H2391.0V1186.6H2392.0V1160.2H2393.0V1086.0H2394.0V1134.6H2395.0V1178.7H2396.0V1182.8H2397.0V1199.6H2398.0V1177.8H2399.0V1178.4H2400.0V1092.3H2401.0V1129.5H2402.0V1144.5H2403.0V1159.7H2404.0V1113.9H2405.0V1100.7H2406.0V1125.9H2407.0V1121.8H2408.0V1146.8H2409.0V1165.2H2410.0V1182.9H2411.0V1189.1H2412.0V1177.2H2413.0V1122.1H2414.0V1099.9H2415.0V1122.7H2416.0V1164.8H2417.0V1189.3H2418.0V1203.8H2419.0V1182.0H2420.0V1176.2H2421.0V1165.7H2422.0V1155.9H2423.0V1108.7H2424.0V1112.9H2425.0V1081.5H2426.0V1162.2H2427.0V1127.5H2428.0V1133.5H2429.0V1202.3H2430.0V1186.2H2431.0V1151.6H2432.0V1203.3H2433.0V1163.4H2434.0V1161.9H2435.0V1106.6H2436.0V1143.5H2437.0V1201.8H2438.0V1175.7H2439.0V1096.0H2440.0V1153.9H2441.0V1110.0H2442.0V1062.1H2443.0V1138.0H2444.0V1135.3H2445.0V999.2H2446.0V1112.8H2447.0V1141.7H2448.0V1124.7H2449.0V1130.8H2450.0V1000.0H2451.0V1130.8H2452.0V1094.3H2453.0V1147.4H2454.0V1081.1H2455.0V883.4H2456.0V1006.0H2457.0V1090.4H2458.0V1143.7H2459.0V1158.7H2460.0V1125.6H2461.0V1106.6H2462.0V940.0H2463.0V1105.8H2464.0V1060.7H2465.0V1050.2H2466.0V800.0H2467.0V1050.2H2468.0V1077.5H2469.0V1037.6H2470.0V720.0H2471.0V954.9H2472.0V1034.9H2473.0V762.0H2474.0V1034.9H2475.0V1082.2H2476.0V1057.1H2477.0V913.0H2478.0V1125.1H2479.0V1131.3H2480.0V1135.3H2481.0V1105.4H2482.0V937.0H2483.0V1105.4H2484.0V1147.1H2485.0V1130.8H2486.0V1000.0H2487.0V1060.7H2488.0V1098.7H2489.0V1187.9H2490.0V1177.9H2491.0V1184.5H2492.0V1169.3H2493.0V1148.5H2494.0V1044.0H2495.0V1148.5H2496.0V1085.0H2497.0V1119.6H2498.0V1159.0H2499.0V1176.0H2500.0V1153.7H2501.0V1057.0H2502.0V1153.7H2503.0V1176.0H2504.0V1142.9H2505.0V1134.2H2506.0V1107.7H2507.0V1090.6H2508.0V1147.9H2509.0V1156.1H2510.0V1063.0H2511.0V1130.1H2512.0V1125.1H2513.0V1155.4H2514.0V1119.1H2515.0V1141.1H2516.0V1169.8H2517.0V1164.2H2518.0V1095.0H2519.0V1159.1H2520.0V1166.8H2521.0V1122.2H2522.0V1111.5H2523.0V1118.0H2524.0V1181.4H2525.0V1133.4H2526.0V1118.2H2527.0V1152.5H2528.0V1064.0H2529.0V1156.6H2530.0V1193.8H2531.0V1187.6H2532.0V1146.0H2533.0V1093.0H2534.0V1096.8H2535.0V1144.1H2536.0V1149.9H2537.0V1198.0H2538.0V1185.4H2539.0V1172.7H2540.0V1190.1H2541.0V1173.1H2542.0V1105.0H2543.0V1138.9H2544.0V1200.5H2545.0V1211.5H2546.0V1189.6H2547.0V1202.1H2548.0V1185.0H2549.0V1169.7H2550.0V1117.0H2551.0V1138.6H2552.0V1082.2H2553.0V1143.5H2554.0V1155.4H2555.0V1174.3H2556.0V1174.4H2557.0V1124.6H2558.0V1126.7H2559.0V1143.6H2560.0V1193.5H2561.0V1173.1H2562.0V1153.7H2563.0V1132.9H2564.0V1165.6H2565.0V1178.9H2566.0V1171.2H2567.0V1193.9H2568.0V1188.7H2569.0V1176.1H2570.0V1149.8H2571.0V1193.1H2572.0V1184.2H2573.0V1188.0H2574.0V1193.3H2575.0V1177.6H2576.0V1188.3H2577.0V1190.6H2578.0V1161.0H2579.0V1152.8H2580.0V1129.0H2581.0V1161.0H2582.0V1169.6H2583.0V1196.2H2584.0V1183.4H2585.0V1181.8H2586.0V1086.0H2587.0V1141.9H2588.0V1178.4H2589.0V1162.1H2590.0V1172.3H2591.0V1187.8H2592.0V1121.5H2593.0V1132.5H2594.0V1125.7H2595.0V1142.3H2596.0V1190.9H2597.0V1204.0H2598.0V1213.8H2599.0V1217.0H2600.0V1215.5H2601.0V1195.8H2602.0V1160.3H2603.0V1122.9H2604.0V1177.2H2605.0V1179.1H2606.0V1195.2H2607.0V1169.8H2608.0V1185.3H2609.0V1172.5H2610.0V1126.2H2611.0V1170.9H2612.0V1175.1H2613.0V1190.1H2614.0V1197.2H2615.0V1199.7H2616.0V1172.0H2617.0V1167.0H2618.0V1181.3H2619.0V1185.7H2620.0V1188.0H2621.0V1157.6H2622.0V1203.7H2623.0V1170.8H2624.0V1168.5H2625.0V1175.0H2626.0V1190.0H2627.0V1187.2H2628.0V1140.0H2629.0V1040.0H2630.0V1143.0H2631.0V1170.0H2632.0V1141.7H2633.0V1158.6H2634.0V1193.6H2635.0V1170.4H2636.0V1165.7H2637.0V1180.6H2638.0V1194.7H2639.0V1196.7H2640.0V1185.5H2641.0V1174.4H2642.0V1147.3H2643.0V1154.0H2644.0V1163.0H2645.0V1206.4H2646.0V1197.6H2647.0V1206.0H2648.0V1171.5H2649.0V1142.4H2650.0V1184.7H2651.0V1203.2H2652.0V1162.5H2653.0V1157.0H2654.0V1183.8H2655.0V1178.0H2656.0V1172.3H2657.0V1211.6H2658.0V1164.3H2659.0V1164.8H2660.0V1126.0H2661.0V1160.0H2662.0V1195.2H2663.0V1207.9H2664.0V1207.5H2665.0V1206.7H2666.0V1191.6H2667.0V1174.8H2668.0V1181.1H2669.0V1172.0H2670.0V1160.9H2671.0V1194.7H2672.0V1176.9H2673.0V1183.0H2674.0V1185.2H2675.0V1179.5H2676.0V1163.7H2677.0V1183.2H2678.0V1177.7H2679.0V1158.5H2680.0V1062.0H2681.0V1143.1H2682.0V1176.6H2683.0V1163.5H2684.0V1148.1H2685.0V1169.1H2686.0V1167.1H2687.0V1202.4H2688.0V1204.7H2689.0V1188.5H2690.0V1164.0H2691.0V1165.8H2692.0V1180.1H2693.0V1194.9H2694.0V1195.8H2695.0V1187.0H2696.0V1189.7H2697.0V1215.9H2698.0V1209.7H2699.0V1211.6H2700.0V1158.7H2701.0V1162.0H2702.0V1175.7H2703.0V1202.1H2704.0V1179.9H2705.0V1122.0H2706.0V1171.9H2707.0V1164.6H2708.0V1143.3H2709.0V1164.7H2710.0V1170.1H2711.0V1181.3H2712.0V1214.1H2713.0V1194.6H2714.0V1180.0H2715.0V1173.8H2716.0V1193.4H2717.0V1199.6H2718.0V1214.5H2719.0V1207.5H2720.0V1182.0H2721.0V1154.5H2722.0V1171.0H2723.0V1189.8H2724.0V1205.4H2725.0V1189.2H2726.0V1213.8H2727.0V1192.9H2728.0V1184.8H2729.0V1196.2H2730.0V1191.0H2731.0V1174.9H2732.0V1190.6H2733.0V1163.4H2734.0V1163.8H2735.0V1163.4H2736.0V1123.0H2737.0V1186.1H2738.0V1185.8H2739.0V1183.1H2740.0V1153.7H2741.0V1130.5H2742.0V1141.4H2743.0V1160.3H2744.0V1181.2H2745.0V1190.7H2746.0V1197.1H2747.0V1190.3H2748.0V1150.6H2749.0V1176.9H2750.0V1180.7H2751.0V1210.3H2752.0V1203.7H2753.0V1201.2H2754.0V1156.7H2755.0V1188.7H2756.0V1175.6H2757.0V1077.5H2758.0V1144.1H2759.0V1188.8H2760.0V1183.8H2761.0V1174.9H2762.0V1199.2H2763.0V1184.1H2764.0V1197.3H2765.0V1197.8H2766.0V1152.1H2767.0V1156.1H2768.0V1204.1H2769.0V1161.1H2770.0V1181.7H2771.0V1195.7H2772.0V1189.4H2773.0V1203.3H2774.0V1183.7H2775.0V1183.9H2776.0V1149.5H2777.0V1146.5H2778.0V1174.5H2779.0V1187.2H2780.0V1166.3H2781.0V1126.5H2782.0V1149.9H2783.0V1170.3H2784.0V1130.0H2785.0V1174.1H2786.0V1186.1H2787.0V1190.2H2788.0V1212.2H2789.0V1193.0H2790.0V1199.9H2791.0V1202.0H2792.0V1188.6H2793.0V1173.6H2794.0V1116.0H2795.0V1181.1H2796.0V1203.7H2797.0V1203.6H2798.0V1188.4H2799.0V1211.2H2800.0V1200.7H2801.0V1195.9H2802.0V1185.4H2803.0V1182.9H2804.0V1194.5H2805.0V1181.2H2806.0V1189.6H2807.0V1202.8H2808.0V1186.2H2809.0V1167.1H2810.0V1121.0H2811.0V1187.3H2812.0V1187.5H2813.0V1198.7H2814.0V1183.8H2815.0V1199.1H2816.0V1157.6H2817.0V1159.2H2818.0V1137.4H2819.0V1158.7H2820.0V1179.4H2821.0V1196.0H2822.0V1129.0H2823.0V1161.9H2824.0V1162.7H2825.0V1175.7H2826.0V1184.2H2827.0V1209.4H2828.0V1205.9H2829.0V1214.3H2830.0V1201.5H2831.0V1199.6H2832.0V1149.9H2833.0V1144.3H2834.0V1192.6H2835.0V1192.5H2836.0V1207.4H2837.0V1190.5H2838.0V1203.5H2839.0V1198.1H2840.0V1183.7H2841.0V1187.6H2842.0V1157.2H2843.0V1183.4H2844.0V1185.8H2845.0V1203.7H2846.0V1201.1H2847.0V1206.2H2848.0V1172.8H2849.0V1185.5H2850.0V1198.4H2851.0V1192.8H2852.0V1141.0H2853.0V1163.4H2854.0V1195.4H2855.0V1198.5H2856.0V1190.9H2857.0V1197.4H2858.0V1191.3H2859.0V1184.5H2860.0V1172.8H2861.0V1145.0H2862.0V1176.8H2863.0V1185.5H2864.0V1192.8H2865.0V1180.6H2866.0V1167.4H2867.0V1180.4H2868.0V1191.7H2869.0V1187.0H2870.0V1190.8H2871.0V1192.3H2872.0V1182.3H2873.0V1169.1H2874.0V1156.5H2875.0V1139.2H2876.0V1175.1H2877.0V1190.3H2878.0V1177.6H2879.0V1184.3H2880.0V1179.0H2881.0V1169.7H2882.0V1181.0H2883.0V1175.3H2884.0V1186.5H2885.0V1192.0H2886.0V1178.4H2887.0V1189.2H2888.0V1175.3H2889.0V1155.5H2890.0V1099.0H2891.0V1182.2H2892.0V1187.5H2893.0V1193.8H2894.0V1199.3H2895.0V1189.3H2896.0V1186.2H2897.0V1149.6H2898.0V1174.0H2899.0V1214.0H2900.0V1214.5H2901.0V1196.4H2902.0V1207.9H2903.0V1205.4H2904.0V1198.9H2905.0V1199.9H2906.0V1162.9H2907.0V1216.0"/></defs><use href="#sig" fill="none" stroke="#d02d28" stroke-width="2.3" clip-path="url(#clo)"/><use href="#sig" fill="none" stroke="#cc3129" stroke-width="1.8" clip-path="url(#chi)"/>
<path d="M101.5,55 V1219 M87.7,1219 H2907.5 M87.7,55.5 H101.5 M92.5,78.8 H101.5 M92.5,102.1 H101.5 M92.5,125.4 H101.5 M92.5,148.7 H101.5 M87.7,172.0 H101.5 M92.5,195.3 H101.5 M92.5,218.6 H101.5 M92.5,241.9 H101.5 M92.5,265.2 H101.5 M87.7,288.5 H101.5 M92.5,311.8 H101.5 M92.5,335.1 H101.5 M92.5,358.4 H101.5 M92.5,381.7 H101.5 M87.7,405.0 H101.5 M92.5,428.3 H101.5 M92.5,451.6 H101.5 M92.5,474.9 H101.5 M92.5,498.2 H101.5 M87.7,521.5 H101.5 M92.5,544.8 H101.5 M92.5,568.1 H101.5 M92.5,591.4 H101.5 M92.5,614.7 H101.5 M87.7,638.0 H101.5 M92.5,661.3 H101.5 M92.5,684.6 H101.5 M92.5,707.9 H101.5 M92.5,731.2 H101.5 M87.7,754.5 H101.5 M92.5,777.8 H101.5 M92.5,801.1 H101.5 M92.5,824.4 H101.5 M92.5,847.7 H101.5 M87.7,871.0 H101.5 M92.5,894.3 H101.5 M92.5,917.6 H101.5 M92.5,940.9 H101.5 M92.5,964.2 H101.5 M87.7,987.5 H101.5 M92.5,1010.8 H101.5 M92.5,1034.1 H101.5 M92.5,1057.4 H101.5 M92.5,1080.7 H101.5 M87.7,1104.0 H101.5 M92.5,1127.3 H101.5 M92.5,1150.6 H101.5 M92.5,1173.9 H101.5 M92.5,1197.2 H101.5 M306.2,1219 V1226.5 M381.8,1219 V1232 M457.4,1219 V1226.5 M532.9,1219 V1226.5 M608.5,1219 V1226.5 M684.0,1219 V1226.5 M759.6,1219 V1232 M835.2,1219 V1226.5 M910.7,1219 V1226.5 M986.3,1219 V1226.5 M1061.8,1219 V1226.5 M1137.4,1219 V1232 M1213.0,1219 V1226.5 M1288.5,1219 V1226.5 M1364.1,1219 V1226.5 M1439.6,1219 V1226.5 M1515.2,1219 V1232 M1590.8,1219 V1226.5 M1666.3,1219 V1226.5 M1741.9,1219 V1226.5 M1817.4,1219 V1226.5 M1893.0,1219 V1232 M1968.6,1219 V1226.5 M2044.1,1219 V1226.5 M2119.7,1219 V1226.5 M2195.2,1219 V1226.5 M2270.8,1219 V1232 M2346.4,1219 V1226.5 M2421.9,1219 V1226.5 M2497.5,1219 V1226.5 M2573.0,1219 V1226.5 M2648.6,1219 V1232 M2724.2,1219 V1226.5 M2799.7,1219 V1226.5 M2875.3,1219 V1226.5" stroke="#231f20" stroke-width="2.4" fill="none"/>
<path d="M1707.9,51.0v4 M1600.4,210.8v4 M2173.2,345.2v4 M2279.7,437.2v4 M1714.2,480.9v4 M748.1,488.9v4 M2287.0,546.5v4 M755.1,602.3v4 M1607.0,616.9v4 M2470.3,719.5v4 M2181.6,728.2v4 M2053.4,798.7v4 M764.0,806.5v4 M2455.5,882.9v4 M2068.2,931.0v4 M619.5,973.8v4 M1721.4,983.5v4 M2445.2,998.7v4 M2059.0,1023.1v4 M348.8,1058.5v4 M1718.3,1056.5v4 M803.2,1077.8v4 M1040.3,1080.7v4 M2757.3,1077.0v4 M1319.3,1131.0v4 M371.0,1140.5v4" stroke="#231f20" stroke-width="2" fill="none"/>
<g font-family="Liberation Serif" ><text x="76.0" y="93.0" text-anchor="end" font-size="46.8" fill="#231f20" >100</text><text x="76.0" y="184.0" text-anchor="end" font-size="46.8" fill="#231f20" >90</text><text x="76.0" y="300.8" text-anchor="end" font-size="46.8" fill="#231f20" >80</text><text x="76.0" y="417.9" text-anchor="end" font-size="46.8" fill="#231f20" >70</text><text x="76.0" y="533.8" text-anchor="end" font-size="46.8" fill="#231f20" >60</text><text x="76.0" y="649.9" text-anchor="end" font-size="46.8" fill="#231f20" >50</text><text x="76.0" y="767.8" text-anchor="end" font-size="46.8" fill="#231f20" >40</text><text x="76.0" y="884.7" text-anchor="end" font-size="46.8" fill="#231f20" >30</text><text x="76.0" y="1002.0" text-anchor="end" font-size="46.8" fill="#231f20" >20</text><text x="76.0" y="1119.5" text-anchor="end" font-size="46.8" fill="#231f20" >10</text><text x="76.0" y="1210.0" text-anchor="end" font-size="46.8" fill="#231f20" >0</text><text x="381.8" y="1277.2" text-anchor="middle" font-size="46.8" fill="#231f20" >900</text><text x="759.6" y="1277.2" text-anchor="middle" font-size="46.8" fill="#231f20" >950</text><text x="1137.4" y="1277.2" text-anchor="middle" font-size="46.8" fill="#231f20" >1 000</text><text x="1515.2" y="1277.2" text-anchor="middle" font-size="46.8" fill="#231f20" >1 050</text><text x="1893.0" y="1277.2" text-anchor="middle" font-size="46.8" fill="#231f20" >1 100</text><text x="2270.8" y="1277.2" text-anchor="middle" font-size="46.8" fill="#231f20" >1 150</text><text x="2648.6" y="1277.2" text-anchor="middle" font-size="46.8" fill="#231f20" >1 200</text><text x="1540.0" y="1329.0" text-anchor="start" font-size="48" fill="#231f20" ><tspan font-style="italic">m</tspan>/<tspan font-style="italic">z</tspan></text><text x="2901.5" y="1258.0" text-anchor="start" font-size="47" fill="#cf3127" letter-spacing="-1">1[c</text><text x="1712.2" y="43.3" text-anchor="middle" font-size="47.2" fill="#231f20" >1 075.241 4</text><text x="1603.8" y="204.7" text-anchor="middle" font-size="47.2" fill="#231f20" >1 061.139 0</text><text x="2177.0" y="337.3" text-anchor="middle" font-size="47.2" fill="#231f20" >1 137.007 6</text><text x="2282.8" y="429.0" text-anchor="middle" font-size="47.2" fill="#231f20" >1 151.046 5</text><text x="1716.9" y="473.3" text-anchor="middle" font-size="47.2" fill="#231f20" >1 076.122 8</text><text x="759.1" y="482.3" text-anchor="middle" font-size="47.2" fill="#231f20" >948.404 3</text><text x="2286.2" y="539.3" text-anchor="middle" font-size="47.2" fill="#231f20" >1 152.009 1</text><text x="766.4" y="596.8" text-anchor="middle" font-size="47.2" fill="#231f20" >949.324 1</text><text x="1610.7" y="610.5" text-anchor="middle" font-size="47.2" fill="#231f20" >1 062.160 6</text><text x="2472.8" y="711.8" text-anchor="middle" font-size="47.2" fill="#231f20" >1 176.205 8</text><text x="2185.4" y="720.4" text-anchor="middle" font-size="47.2" fill="#231f20" >1 138.014 7</text><text x="2057.0" y="793.6" text-anchor="middle" font-size="47.2" fill="#231f20" >1 121.104 4</text><text x="775.7" y="799.6" text-anchor="middle" font-size="47.2" fill="#231f20" >950.336 4</text><text x="2456.4" y="875.1" text-anchor="middle" font-size="47.2" fill="#231f20" >1 174.363 1</text><text x="2071.2" y="924.3" text-anchor="middle" font-size="47.2" fill="#231f20" >1 123.004 9</text><text x="632.8" y="967.2" text-anchor="middle" font-size="47.2" fill="#231f20" >931.376 9</text><text x="1723.5" y="975.0" text-anchor="middle" font-size="47.2" fill="#231f20" >1 077.200 6</text><text x="2448.3" y="991.3" text-anchor="middle" font-size="47.2" fill="#231f20" >1 172.931 0</text><text x="2063.8" y="1016.0" text-anchor="middle" font-size="47.2" fill="#231f20" >1 121.954 4</text><text x="362.7" y="1051.3" text-anchor="middle" font-size="47.2" fill="#231f20" >895.549 4</text><text x="1721.2" y="1048.0" text-anchor="middle" font-size="47.2" fill="#231f20" >1 076.857 6</text><text x="816.3" y="1070.4" text-anchor="middle" font-size="47.2" fill="#231f20" >955.775 3</text><text x="1053.3" y="1076.0" text-anchor="middle" font-size="47.2" fill="#231f20" >987.186 0</text><text x="2762.9" y="1070.5" text-anchor="middle" font-size="47.2" fill="#231f20" >1 214.376 7</text><text x="1322.1" y="1122.5" text-anchor="middle" font-size="47.2" fill="#231f20" >1 024.091 5</text><text x="386.2" y="1133.9" text-anchor="middle" font-size="47.2" fill="#231f20" >898.433 6</text><text x="1787.9" y="152.0" text-anchor="start" font-size="47.3" fill="#231f20" >Surfactin A</text><text x="1789.9" y="204.2" text-anchor="start" font-size="47.3" fill="#231f20" >C15[M+K]<tspan dy="-15.8" font-size="30">+</tspan></text><text x="1314.6" y="300.2" text-anchor="start" font-size="47.3" fill="#231f20" >Surfactin A</text><text x="1303.1" y="355.3" text-anchor="start" font-size="47.3" fill="#231f20" >C14 [M+K]<tspan dy="-15.8" font-size="30">+</tspan></text></g>
<defs>
<linearGradient id="g1" x1="0" x2="1" y1="0" y2="0"><stop offset="0" stop-color="#4db574"/><stop offset="0.45" stop-color="#4fa283"/><stop offset="0.75" stop-color="#4f8494"/><stop offset="1" stop-color="#526aa2"/></linearGradient>
<linearGradient id="g2" x1="1" x2="0" y1="0" y2="0"><stop offset="0" stop-color="#4db574"/><stop offset="0.45" stop-color="#4fa283"/><stop offset="0.75" stop-color="#4f8494"/><stop offset="1" stop-color="#526aa2"/></linearGradient>
</defs>
<path d="M1536.1,304.3 H1584 V299.8 L1600.5,307.1 L1584,314.8 V309.9 H1536.1 Z" fill="url(#g1)"/>
<path d="M1778.2,154 H1740 V149.5 L1724.7,157 L1740,164.4 V159.6 H1778.2 Z" fill="url(#g2)"/>
</svg></body></html>
